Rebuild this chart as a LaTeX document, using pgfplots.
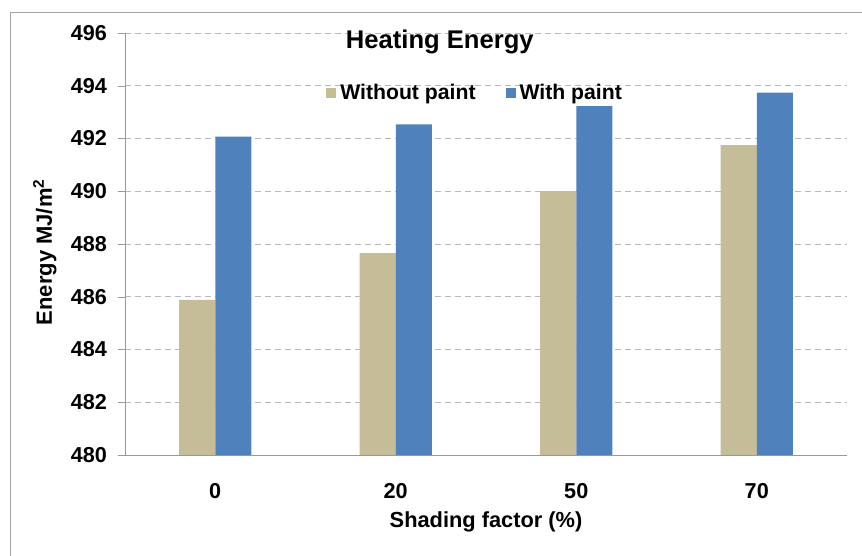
\documentclass[border=0pt]{standalone}
\usepackage{fontspec}
\setmainfont{Liberation Sans}
\usepackage{pgfplots}
\pgfplotsset{compat=1.18}
\definecolor{tanbar}{RGB}{196,189,151}
\definecolor{bluebar}{RGB}{79,129,189}
\begin{document}
\begin{tikzpicture}[x=0.5pt,y=0.5pt]
\path[use as bounding box] (0,0) rectangle (862,556);
\draw[gray!70] (10,-5) -- (10,544) -- (867,544);
\begin{axis}[
    at={(62.5pt,50.5pt)}, anchor=south west,
    scale only axis, width=361pt, height=211pt,
    xmin=-0.5, xmax=3.5, ymin=480, ymax=496,
    xtick={0,1,2,3}, xticklabels={0,20,50,70},
    ytick={480,482,...,496},
    axis x line*=bottom, axis y line*=left,
    axis line style={draw=gray!80, -},
    xtick style={draw=none},
    ytick style={draw=gray!80},
    tick align=outside, major tick length=3.5pt,
    ymajorgrids, grid style={densely dashed, gray!55},
    /pgf/number format/assume math mode=true,
    ticklabel style={font=\bfseries\fontsize{10.8}{12}\selectfont},
    xticklabel style={yshift=-7pt},
    yticklabel style={xshift=-2pt},
    title={Heating Energy},
    title style={at={(axis description cs:0.436,0.95)}, anchor=center,
        font=\bfseries\fontsize{12.8}{14}\selectfont},
    xlabel={Shading factor (\%)},
    xlabel style={at={(axis description cs:0.5,-0.159)}, anchor=center,
        font=\bfseries\fontsize{10.9}{12}\selectfont},
    ylabel={Energy MJ/m\textsuperscript{2}},
    ylabel style={at={(axis description cs:-0.111,0.481)}, anchor=center,
        font=\bfseries\fontsize{11}{13}\selectfont},
    legend columns=2,
    legend style={at={(axis description cs:0.27,0.858)}, anchor=west,
        draw=none, fill=none, font=\bfseries\fontsize{10.6}{12}\selectfont,
        /tikz/every even column/.append style={column sep=13pt}},
    legend image code/.code={\fill[#1] (0pt,-2.5pt) rectangle (5pt,2.5pt);},
]
\addplot[ybar, bar width=0.2, bar shift=-0.1, fill=tanbar, draw=none]
    coordinates {(0,485.88) (1,487.65) (2,490.0) (3,491.75)};
\addplot[ybar, bar width=0.2, bar shift=0.1, fill=bluebar, draw=none]
    coordinates {(0,492.07) (1,492.54) (2,493.23) (3,493.74)};
\legend{Without paint, With paint}
\end{axis}
\end{tikzpicture}
\end{document}
